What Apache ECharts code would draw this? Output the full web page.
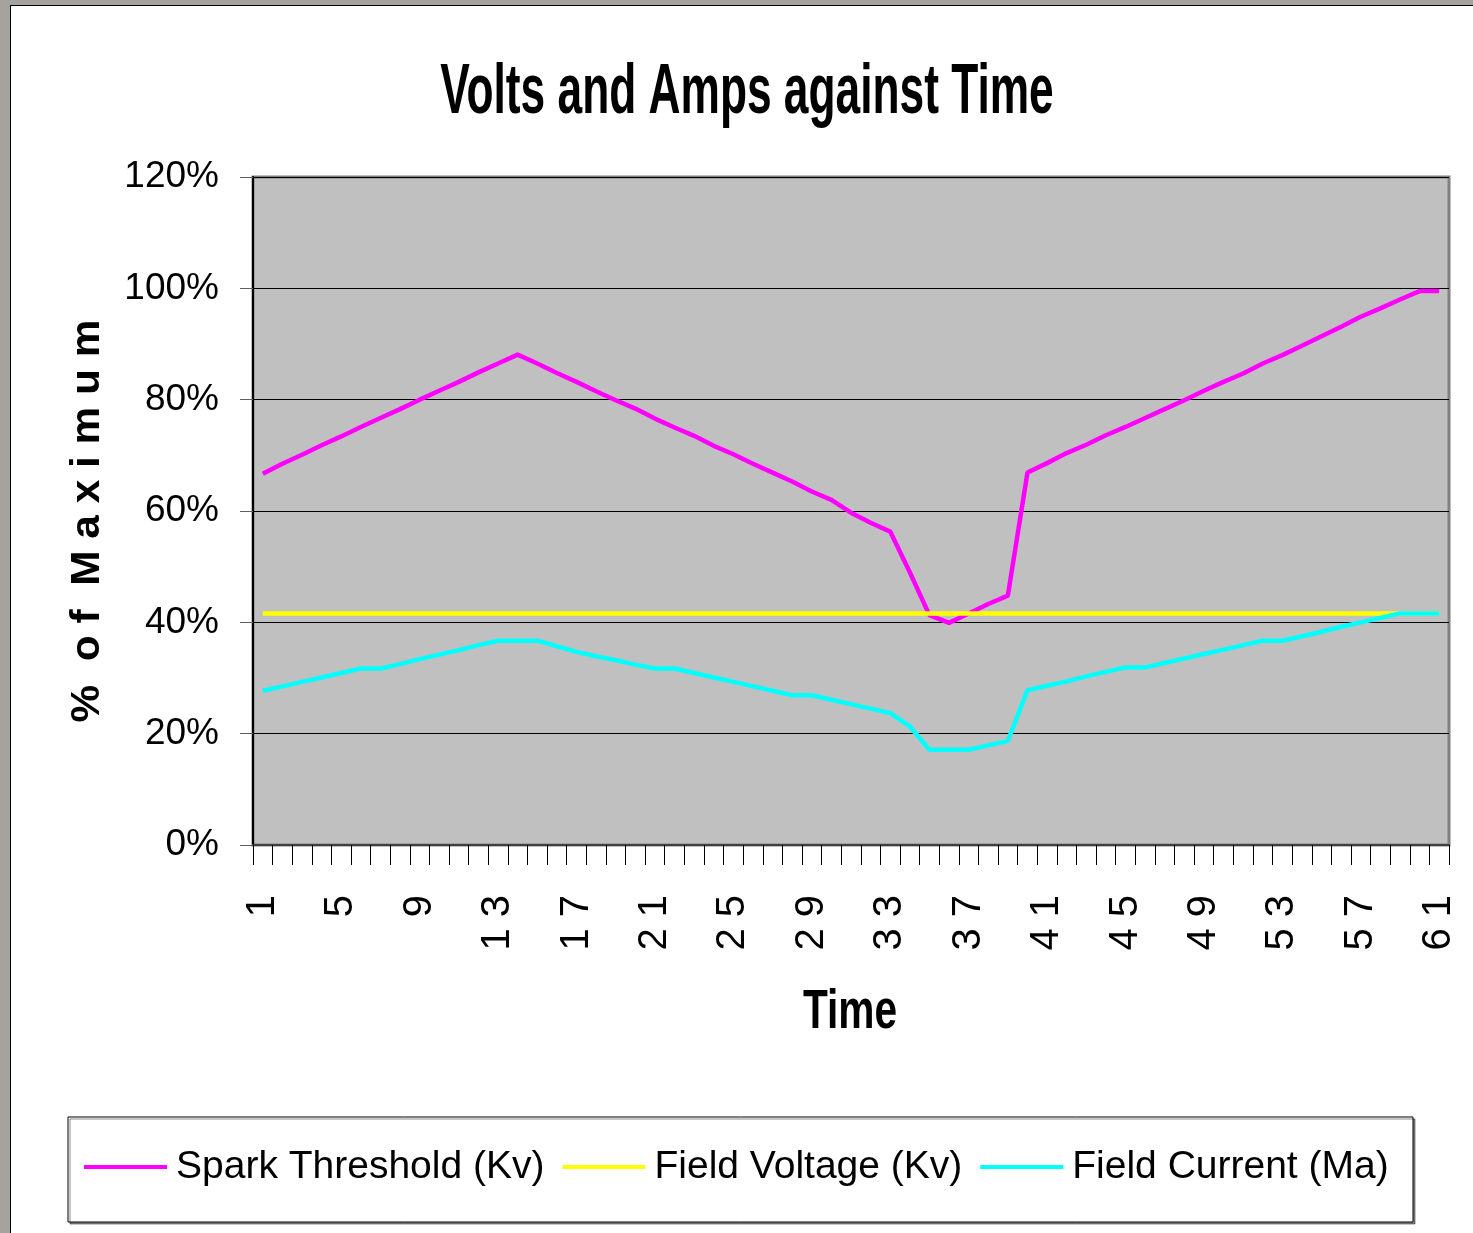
<!DOCTYPE html>
<html>
<head>
<meta charset="utf-8">
<script src="https://cdn.jsdelivr.net/npm/echarts@6/dist/echarts.min.js"></script>
<style>
  html, body { margin: 0; padding: 0; width: 1473px; height: 1233px; overflow: hidden; background: #a6a39e; }
  #frame { position: absolute; left: 10px; top: 5px; width: 1480px; height: 1240px; background: #ffffff; border: 1px solid #000; }
  #chart { position: absolute; left: 0; top: 0; width: 1473px; height: 1233px; }
</style>
</head>
<body>
<div id="frame"></div>
<div id="chart"></div>
<script>
// ---- data ----
const categories = ['1','2','3','4','5','6','7','8','9','10','11','12','13','14','15','16','17','18','19','20',
  '21','22','23','24','25','26','27','28','29','30','31','32','33','34','35','36','37','38','39','40',
  '41','42','43','44','45','46','47','48','49','50','51','52','53','54','55','56','57','58','59','60','61'];

const sparkThreshold = [66.7, 68.5, 70.1, 71.8, 73.4, 75.1, 76.7, 78.3, 80.0, 81.6,
  83.2, 84.9, 86.5, 88.1, 86.5, 84.8, 83.2, 81.5, 79.9, 78.4,
  76.6, 75.0, 73.5, 71.7, 70.2, 68.5, 66.9, 65.3, 63.5, 62.0,
  59.7, 57.9, 56.3, 49.0, 41.3, 39.9, 41.6, 43.3, 44.8, 66.9,
  68.6, 70.4, 71.9, 73.6, 75.1, 76.7, 78.3, 79.9, 81.6, 83.2,
  84.7, 86.5, 88.0, 89.7, 91.4, 93.1, 94.9, 96.4, 98.0, 99.5, 99.5];

const fieldVoltage = [41.6, 41.6, 41.6, 41.6, 41.6, 41.6, 41.6, 41.6, 41.6, 41.6,
  41.6, 41.6, 41.6, 41.6, 41.6, 41.6, 41.6, 41.6, 41.6, 41.6,
  41.6, 41.6, 41.6, 41.6, 41.6, 41.6, 41.6, 41.6, 41.6, 41.6,
  41.6, 41.6, 41.6, 41.6, 41.6, 41.6, 41.6, 41.6, 41.6, 41.6,
  41.6, 41.6, 41.6, 41.6, 41.6, 41.6, 41.6, 41.6, 41.6, 41.6,
  41.6, 41.6, 41.6, 41.6, 41.6, 41.6, 41.6, 41.6, 41.6, 41.6, 41.6];

const fieldCurrent = [27.7, 28.5, 29.3, 30.1, 30.9, 31.7, 31.7, 32.5, 33.4, 34.2,
  35.0, 35.9, 36.7, 36.7, 36.7, 35.7, 34.7, 33.9, 33.2, 32.4,
  31.7, 31.7, 30.9, 30.1, 29.3, 28.5, 27.7, 26.9, 26.9, 26.1,
  25.3, 24.5, 23.7, 21.3, 17.1, 17.1, 17.1, 17.9, 18.7, 27.8,
  28.6, 29.4, 30.3, 31.1, 31.9, 31.9, 32.7, 33.5, 34.3, 35.1,
  35.9, 36.7, 36.7, 37.5, 38.3, 39.2, 40.0, 40.8, 41.6, 41.6, 41.6];

const seriesNames = ['Spark Threshold (Kv)', 'Field Voltage (Kv)', 'Field Current (Ma)'];
const seriesColors = ['#ff00ff', '#ffff00', '#00ffff'];
const yTicks = { min: 0, max: 120, step: 20 };

const titleText = 'Volts and Amps against Time';
const xName = 'Time';
const yName = '%  o f  M a x i m u m';

// ---- chart ----
const FONT = '"Liberation Sans", Arial, sans-serif';
const chart = echarts.init(document.getElementById('chart'), null, { renderer: 'canvas' });

chart.setOption({
  animation: false,
  grid: {
    left: 253, top: 177, right: 24, bottom: 388,
    show: true, backgroundColor: '#c0c0c0', borderColor: '#808080', borderWidth: 3
  },
  legend: {
    data: seriesNames,
    left: 84, top: 1139, width: 1380, padding: 0,
    icon: 'rect', itemWidth: 83, itemHeight: 4, itemGap: 18,
    textStyle: { fontFamily: FONT, fontSize: 39, color: '#000', lineHeight: 56, padding: [0, 0, 0, 4] },
    z: 10
  },
  xAxis: {
    type: 'category',
    data: categories,
    boundaryGap: true,
    axisLine: { show: true, lineStyle: { color: '#404040', width: 2 } },
    axisTick: { show: true, interval: 0, length: 20, lineStyle: { color: '#000', width: 1 } },
    axisLabel: {
      interval: 3, rotate: 90, margin: 50,
      fontFamily: FONT, fontSize: 40, color: '#000',
      formatter: v => v.split('').join(' ')
    },
    splitLine: { show: false }
  },
  yAxis: {
    type: 'value',
    min: yTicks.min, max: yTicks.max, interval: yTicks.step,
    axisLine: { show: true, lineStyle: { color: '#000', width: 2 } },
    axisTick: { show: true, length: 13, lineStyle: { color: '#606060', width: 1 } },
    axisLabel: { formatter: '{value}%', margin: 34, fontFamily: FONT, fontSize: 37, color: '#000' },
    splitLine: { show: true, lineStyle: { color: '#000', width: 1 } }
  },
  series: [
    { name: seriesNames[0], type: 'line', data: sparkThreshold, symbol: 'none', color: seriesColors[0], lineStyle: { width: 4.5, color: seriesColors[0] } },
    { name: seriesNames[1], type: 'line', data: fieldVoltage, symbol: 'none', color: seriesColors[1], lineStyle: { width: 4.5, color: seriesColors[1] } },
    { name: seriesNames[2], type: 'line', data: fieldCurrent, symbol: 'none', color: seriesColors[2], lineStyle: { width: 4.5, color: seriesColors[2] } }
  ],
  graphic: [
    {
      type: 'rect', z: 1, silent: true,
      shape: { x: 68, y: 1117, width: 1345, height: 105 },
      style: { fill: '#ffffff', stroke: '#000', lineWidth: 1, shadowColor: 'rgba(0,0,0,0.45)', shadowOffsetX: 2, shadowOffsetY: 2, shadowBlur: 0 }
    },
    {
      type: 'text', z: 5, x: 747, y: 94, scaleX: 0.82, scaleY: 1.3,
      style: { text: titleText, fontFamily: FONT, fontWeight: 'bold', fontSize: 54, fill: '#000', align: 'center', verticalAlign: 'middle' }
    },
    {
      type: 'text', z: 5, x: 850, y: 1012, scaleX: 0.83, scaleY: 1.15,
      style: { text: xName, fontFamily: FONT, fontWeight: 'bold', fontSize: 49, fill: '#000', align: 'center', verticalAlign: 'middle' }
    },
    {
      type: 'text', z: 5, x: 88, y: 521, rotation: Math.PI / 2, scaleX: 1.06, scaleY: 1.0,
      style: { text: yName, fontFamily: FONT, fontWeight: 'bold', fontSize: 40, fill: '#000', align: 'center', verticalAlign: 'middle' }
    }
  ]
});
</script>
</body>
</html>
